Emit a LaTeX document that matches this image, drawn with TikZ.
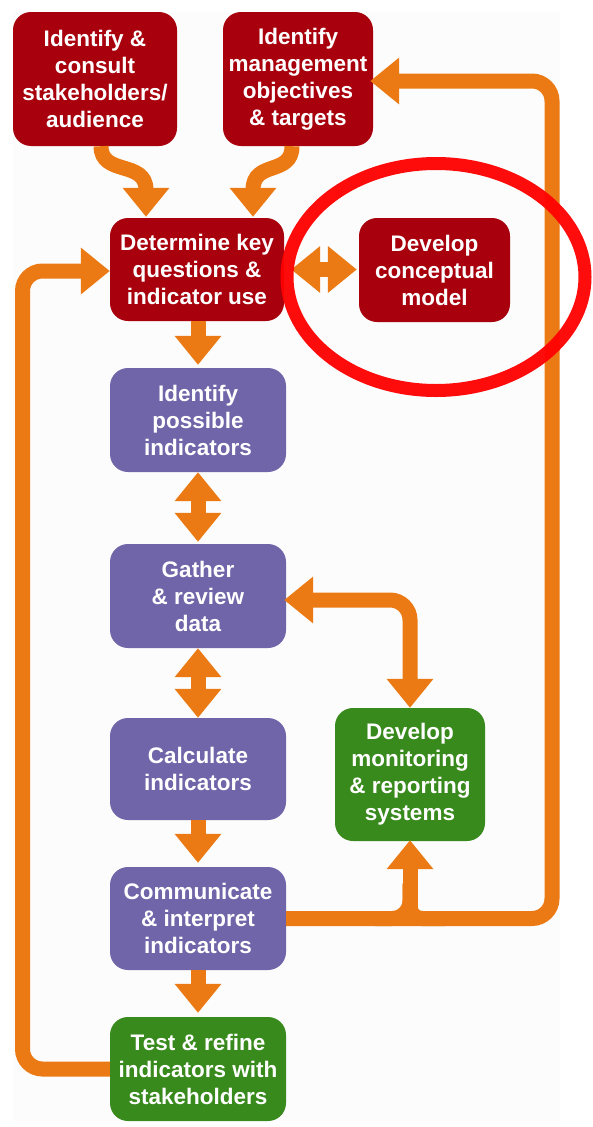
\documentclass[tikz,border=0pt]{standalone}
\usepackage{fontspec}
\setmainfont{Liberation Sans}
\usetikzlibrary{arrows.meta,calc}
\definecolor{boxred}{HTML}{A8000C}
\definecolor{boxpurple}{HTML}{6F65A8}
\definecolor{boxgreen}{HTML}{388A1C}
\definecolor{flow}{HTML}{EC7A14}
\definecolor{bgpaper}{HTML}{FCFCFC}
\definecolor{ringred}{HTML}{FF0000}
\tikzset{
  box/.style={rectangle, rounded corners=18pt, text=white, align=center, inner sep=0pt,
    font=\bfseries\fontsize{22.5}{27}\selectfont},
  redbox/.style={box, fill=boxred},
  purplebox/.style={box, fill=boxpurple},
  greenbox/.style={box, fill=boxgreen},
  fat/.style={draw=flow, line width=15pt, >={Triangle[width=45pt,length=29pt]}},
}
\begin{document}
\begin{tikzpicture}[x=1pt,y=-1pt]
\useasboundingbox (0,0) rectangle (593,1127);
\fill[bgpaper] (13,12) rectangle (560,1121);

% nodes
\node[redbox, minimum width=164pt, minimum height=134pt] (stk) at (95,79) {Identify \&\\consult\\stakeholders/\\audience};
\node[redbox, minimum width=150pt, minimum height=134pt] (obj) at (298,79) {Identify\\management\\objectives\\\& targets};
\node[redbox, minimum width=174pt, minimum height=103pt] (det) at (197,269.5) {Determine key\\questions \&\\indicator use};
\node[redbox, minimum width=151pt, minimum height=104pt] (con) at (434.5,270) {Develop\\conceptual\\model};
\node[purplebox, minimum width=176pt, minimum height=104pt] (pos) at (198,420) {Identify\\possible\\indicators};
\node[purplebox, minimum width=176pt, minimum height=104pt] (gat) at (198,596) {Gather\\\& review\\data};
\node[purplebox, minimum width=176pt, minimum height=102pt] (cal) at (198,769) {Calculate\\indicators};
\node[purplebox, minimum width=176pt, minimum height=103pt] (com) at (198,918.5) {Communicate\\\& interpret\\indicators};
\node[greenbox, minimum width=176pt, minimum height=104pt] (tst) at (198,1069) {Test \& refine\\indicators with\\stakeholders};
\node[greenbox, minimum width=150pt, minimum height=133pt] (mon) at (410,774.5) {Develop\\monitoring\\\& reporting\\systems};

% helper coordinates
\coordinate (rt) at (552,81);
\coordinate (lc) at (22.5,271);
\coordinate (jn) at (mon.south |- com.east);

% S-curves from top boxes
\draw[fat,->] ($(stk.south)+(6,0)$) .. controls ($(stk.south)+(6,30)$) and ($(det.north)+(-51,-58)$) .. ($(det.north)+(-51,-28)$) -- ($(det.north)+(-51,-1)$);
\draw[fat,->] ($(obj.south)+(-6,0)$) .. controls ($(obj.south)+(-6,30)$) and ($(det.north)+(56,-58)$) .. ($(det.north)+(56,-28)$) -- ($(det.north)+(56,-1)$);

% column arrows
\draw[fat,<->, shorten <=7pt, shorten >=2pt] (det.east) -- (det.east -| con.west);
\draw[fat,->, shorten >=3pt] (pos.north |- det.south) -- (pos.north);
\draw[fat,<->, shorten >=2pt] (pos.south) -- (gat.north);
\draw[fat,<->] (gat.south) -- (cal.north);
\draw[fat,->, shorten >=4pt] (cal.south) -- (com.north);
\draw[fat,->, shorten >=4pt] (com.south) -- (tst.north);

% loops
\draw[fat,->, rounded corners=20pt] (tst.west) -| (lc) -- (det.west |- lc);
\draw[fat,->, rounded corners=20pt, shorten >=-3pt] (com.east) -| (rt) -- (obj.east |- rt);
\draw[fat,<->, rounded corners=20pt, shorten <=-2pt] ($(gat.east)+(0,4)$) -| (mon.north);

% branch to monitoring box with fillets
\draw[fat, rounded corners=18pt] ($(jn)+(-35,0)$) -| ($(jn)+(0,-35)$);
\draw[fat, rounded corners=12pt] ($(jn)+(35,0)$) -| ($(jn)+(0,-35)$);
\draw[fat,->, shorten >=-1pt] (jn) -- (mon.south);

% highlight ring
\draw[ringred, line width=13pt, draw opacity=0.95] (436,277) ellipse [x radius=149pt, y radius=113.5pt];
\end{tikzpicture}
\end{document}
